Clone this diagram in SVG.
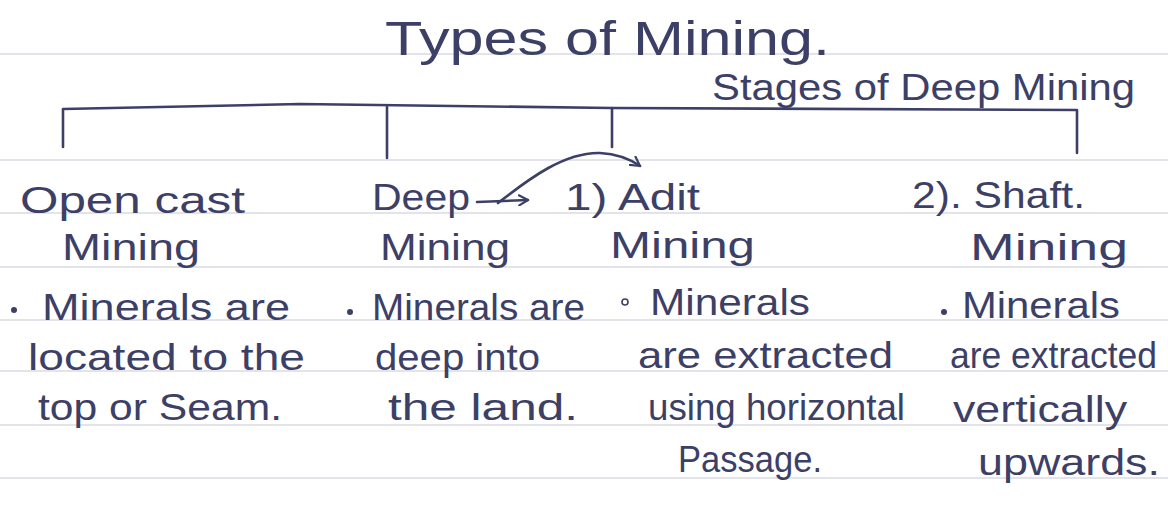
<svg xmlns="http://www.w3.org/2000/svg" width="1168" height="520" viewBox="0 0 1168 520">
  <style>
    .ink { fill: #3d4066; font-family: "Liberation Sans", "DejaVu Sans", sans-serif; }
    .h1 { font-size: 48px; }
    .h2 { font-size: 36px; }
    .t  { font-size: 36px; }
    .rule { stroke: #d9dbe3; stroke-width: 1.5; }
    .pen { fill: none; stroke: #3d4066; stroke-width: 2.6; stroke-linecap: round; stroke-linejoin: round; }
  </style>
  <defs>
    <marker id="open" viewBox="0 0 12 12" refX="10" refY="6" markerWidth="12" markerHeight="12" markerUnits="userSpaceOnUse" orient="auto">
      <path d="M1,1 L10,6 L1,11" fill="none" stroke="#3d4066" stroke-width="2.2" stroke-linecap="round" stroke-linejoin="round"/>
    </marker>
  </defs>

  <rect width="1168" height="520" fill="#ffffff"/>

  <!-- ruled notebook lines -->
  <g id="paper">
    <line class="rule" x1="0" y1="54" x2="1168" y2="54"/>
    <line class="rule" x1="0" y1="160" x2="1168" y2="160"/>
    <line class="rule" x1="0" y1="213" x2="1168" y2="213"/>
    <line class="rule" x1="0" y1="267" x2="1168" y2="267"/>
    <line class="rule" x1="0" y1="320" x2="1168" y2="320"/>
    <line class="rule" x1="0" y1="371" x2="1168" y2="371"/>
    <line class="rule" x1="0" y1="425" x2="1168" y2="425"/>
    <line class="rule" x1="0" y1="478" x2="1168" y2="478"/>
  </g>

  <!-- headings -->
  <g id="title">
    <text class="ink h1" x="385" y="55" textLength="445" lengthAdjust="spacingAndGlyphs">Types of Mining.</text>
  </g>
  <g id="stages">
    <text class="ink h2" x="712" y="100" textLength="423" lengthAdjust="spacingAndGlyphs">Stages of Deep Mining</text>
  </g>

  <!-- connectors: branching bracket and arrows -->
  <g id="connectors">
    <path class="pen" d="M63,147 L63,109 L300,104 L612,108 L1077,110 L1077,153"/>
    <line class="pen" x1="387" y1="107" x2="387" y2="158"/>
    <line class="pen" x1="612" y1="108" x2="612" y2="147"/>
    <path class="pen" d="M477,202 L528,200" marker-end="url(#open)"/>
    <path class="pen" d="M498,203 C530,178 565,152 600,153 C618,154 630,159 640,166" marker-end="url(#open)"/>
  </g>

  <!-- open cast mining -->
  <g id="open-cast">
    <text class="ink t" x="20" y="213" textLength="225" lengthAdjust="spacingAndGlyphs">Open cast</text>
    <text class="ink t" x="62" y="260" textLength="138" lengthAdjust="spacingAndGlyphs">Mining</text>
    <circle cx="14" cy="310" r="3" fill="#3d4066"/>
    <text class="ink t" x="42" y="320" textLength="248" lengthAdjust="spacingAndGlyphs">Minerals are</text>
    <text class="ink t" x="28" y="370" textLength="277" lengthAdjust="spacingAndGlyphs">located to the</text>
    <text class="ink t" x="38" y="420" textLength="244" lengthAdjust="spacingAndGlyphs">top or Seam.</text>
  </g>

  <!-- deep mining -->
  <g id="deep">
    <text class="ink t" x="372" y="210" textLength="98" lengthAdjust="spacingAndGlyphs">Deep</text>
    <text class="ink t" x="380" y="260" textLength="130" lengthAdjust="spacingAndGlyphs">Mining</text>
    <circle cx="350" cy="312" r="3" fill="#3d4066"/>
    <text class="ink t" x="372" y="320" textLength="213" lengthAdjust="spacingAndGlyphs">Minerals are</text>
    <text class="ink t" x="375" y="370" textLength="165" lengthAdjust="spacingAndGlyphs">deep into</text>
    <text class="ink t" x="388" y="420" textLength="190" lengthAdjust="spacingAndGlyphs">the land.</text>
  </g>

  <!-- adit mining -->
  <g id="adit">
    <text class="ink t" x="565" y="210" textLength="135" lengthAdjust="spacingAndGlyphs">1) Adit</text>
    <text class="ink t" x="610" y="258" textLength="145" lengthAdjust="spacingAndGlyphs">Mining</text>
    <circle cx="625" cy="302" r="3" fill="none" stroke="#3d4066" stroke-width="1.6"/>
    <text class="ink t" x="650" y="315" textLength="160" lengthAdjust="spacingAndGlyphs">Minerals</text>
    <text class="ink t" x="638" y="368" textLength="255" lengthAdjust="spacingAndGlyphs">are extracted</text>
    <text class="ink t" x="648" y="420" textLength="257" lengthAdjust="spacingAndGlyphs">using horizontal</text>
    <text class="ink t" x="678" y="472" textLength="144" lengthAdjust="spacingAndGlyphs">Passage.</text>
  </g>

  <!-- shaft mining -->
  <g id="shaft">
    <text class="ink t" x="912" y="208" textLength="173" lengthAdjust="spacingAndGlyphs">2). Shaft.</text>
    <text class="ink t" x="970" y="260" textLength="158" lengthAdjust="spacingAndGlyphs">Mining</text>
    <circle cx="944" cy="312" r="3" fill="#3d4066"/>
    <text class="ink t" x="962" y="318" textLength="158" lengthAdjust="spacingAndGlyphs">Minerals</text>
    <text class="ink t" x="950" y="368" textLength="207" lengthAdjust="spacingAndGlyphs">are extracted</text>
    <text class="ink t" x="953" y="422" textLength="174" lengthAdjust="spacingAndGlyphs">vertically</text>
    <text class="ink t" x="978" y="475" textLength="182" lengthAdjust="spacingAndGlyphs">upwards.</text>
  </g>
</svg>
